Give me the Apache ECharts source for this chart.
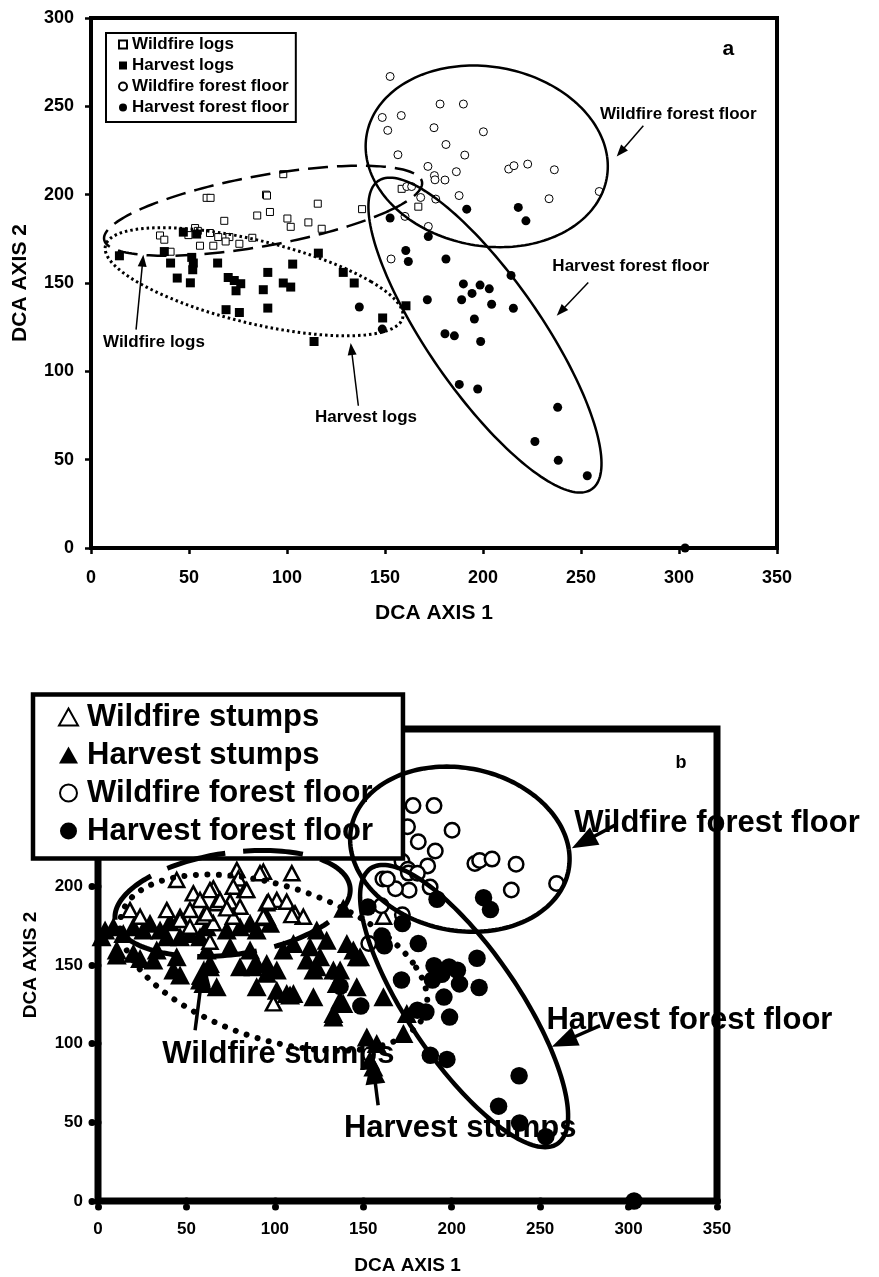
<!DOCTYPE html>
<html>
<head>
<meta charset="utf-8">
<script src="https://cdn.jsdelivr.net/npm/echarts@6/dist/echarts.min.js"></script>
<style>html,body{margin:0;padding:0;background:#fff}#c{width:879px;height:1277px}</style>
</head>
<body>
<div id="c"></div>
<script>
// ---------- Panel a data (DCA axis 1, DCA axis 2) ----------
var wildfireLogs = [[98.1,211.6],[59.0,198.2],[61.0,198.2],[89.3,200.0],[89.8,199.5],[91.3,190.2],[84.8,188.2],[68.0,185.2],[115.7,194.9],[100.2,186.5],[101.9,181.8],[110.9,184.3],[117.7,180.7],[138.3,191.8],[158.5,203.3],[167.0,193.2],[35.2,176.9],[37.4,174.5],[40.6,167.7],[53.1,181.1],[54.5,179.5],[49.7,177.1],[60.7,178.3],[55.6,171.1],[62.4,171.1],[64.9,176.0],[70.6,176.0],[68.7,173.5],[75.7,172.2],[82.3,175.6]];
var harvestLogs = [[14.5,165.4],[37.4,167.8],[47.1,178.8],[53.9,177.7],[40.6,161.3],[51.4,164.5],[52.2,161.3],[51.9,157.5],[44.0,152.8],[50.7,150.1],[64.6,161.3],[70.0,153.1],[73.1,151.4],[76.4,149.6],[74.0,145.6],[90.2,156.0],[87.9,146.2],[98.1,150.0],[101.9,147.7],[102.9,160.7],[116.0,166.9],[128.7,156.0],[134.3,150.0],[68.9,134.9],[75.7,133.3],[90.2,135.8],[160.7,137.1],[148.8,130.2],[113.8,116.9]];
var wildfireFloor = [[152.6,266.9],[148.6,243.7],[158.3,244.8],[151.4,236.4],[178.1,251.3],[190.0,251.3],[175.0,237.9],[200.2,235.6],[181.1,228.4],[156.6,222.6],[190.7,222.4],[171.9,216.0],[186.4,213.0],[175.2,210.8],[175.5,208.4],[180.6,208.3],[213.1,214.5],[215.8,216.4],[222.8,217.3],[236.4,214.1],[259.3,201.8],[233.7,197.7],[187.8,199.5],[175.9,197.5],[168.2,198.4],[161.1,204.6],[163.6,204.6],[160.2,187.7],[172.1,182.0],[153.1,163.6]];
var harvestFloor = [[191.7,191.8],[218.0,192.8],[221.9,185.2],[152.6,186.8],[172.1,176.3],[160.6,168.4],[161.9,162.2],[181.1,163.6],[214.3,154.3],[190.0,149.5],[198.5,148.8],[203.2,146.7],[194.4,144.1],[171.6,140.5],[189.1,140.5],[204.4,138.0],[215.5,135.7],[136.9,136.4],[195.6,129.6],[180.6,121.3],[185.4,120.1],[198.8,116.9],[148.6,123.9],[187.9,92.6],[197.3,90.0],[238.1,79.6],[226.5,60.3],[238.4,49.6],[253.2,40.9],[303.1,0]];

// ---------- Panel b data ----------
var wildfireStumps = [[44.5,204],[78.5,210.4],[93.5,209.3],[109.6,208.3],[79.4,205],[53.9,195.5],[65.2,198.7],[76.5,199.7],[83.1,197.6],[57.7,191.3],[67.1,189.2],[74.7,190.2],[80.3,187.0],[95.4,189.2],[101.1,191.3],[111.4,182.8],[116.1,180.7],[18.1,184.9],[23.8,180.7],[38.9,184.9],[46.4,178.6],[59.6,180.7],[65.2,176.5],[76.5,180.7],[161.4,180.7],[63.3,164.8],[96.3,190.2],[106.7,190.2],[109.6,181.7],[99.2,125.6],[63.3,197.6],[69.0,191.3],[52.0,185.0],[61.5,182.8],[72.8,186.0],[93.5,180.7],[52.0,174.3],[84.1,197.6],[91.6,208.3]];
var harvestStumps = [[2,168],[4,172.3],[8.7,174.3],[14.3,170.1],[20,174.3],[25.6,172.2],[29.4,176.5],[35.1,172.2],[40.7,177.5],[46.4,180.7],[38.9,168],[46.4,168],[52,170.1],[57.7,168],[61.5,174.3],[72.8,172.2],[80.3,174.3],[86,176.5],[89.7,172.2],[95.4,180.7],[10.6,159.5],[20,157.4],[33.2,159.5],[44.5,155.2],[61.5,159.5],[74.7,161.6],[86,159.5],[42.6,146.8],[63.3,151],[80.3,148.9],[95.4,151],[97.3,176.5],[123.7,172.2],[129.3,165.8],[119.9,161.6],[110.5,163.7],[104.8,159.5],[140.7,163.7],[144.4,159.5],[138.7,186],[118,153.1],[123.7,148.9],[133.1,146.8],[146.3,155.2],[89.7,151],[10.6,156.3],[23.8,154.2],[31.3,153.1],[46.4,143.6],[57.7,140.4],[63.3,148.9],[67.1,136.1],[59.6,138.3],[87.8,148.9],[89.7,136.1],[95.4,144.7],[101.1,146.8],[101.1,134.0],[106.7,131.9],[110.5,131.9],[121.8,146.8],[121.8,129.8],[125.6,155.2],[136.9,146.8],[136.9,127.7],[133.1,117.0],[146.3,136.1],[148.2,155.2],[161.4,129.8],[152,104.3],[157.6,100.1],[153.8,89.5],[155.7,85.2],[172.7,106.5],[174.6,119.2],[135,138.3],[138.7,125.6],[108.6,130.9],[133.1,119.2]];

// ---------- Axis ticks ----------
var xTicks = [0, 50, 100, 150, 200, 250, 300, 350];
var yTicks = [0, 50, 100, 150, 200, 250, 300];

// ---------- Group ellipses: [centerX, centerY, u.x, u.y, v.x, v.y] (conjugate semi-diameters, data units) ----------
var ellipsesSolidA  = [[201.9,221.7,61.4,0,-6.8,51.4],[201.0,120.5,34.4,0,-48.5,89.1]];
var ellipseDashedA  = [[87.8,190.9,64.3,0,49.5,25.5]];
var ellipseDottedA  = [[83.2,150.7,59.8,0,-46.9,30.6]];
var ellipsesSolidB  = [[204.6,223.6,61.6,0,-7.4,52.5],[207.0,123.9,36.9,0,-45.8,89.7]];
var ellipseDashedB  = [[76.1,189.1,64.3,0,17.0,33.7]];
var ellipseDottedB  = [[99.3,151.5,78.7,0,-36.8,56.0]];

// ---------- Annotation arrows: [fromX, fromY, toX, toY] ----------
var arrowsA = [[281.8,239.0,268.2,221.6],[253.7,150.3,237.6,131.5],[23.0,123.6,26.7,166.0],[136.4,80.5,132.5,116.0]];
var arrowsB = [[292.4,238.9,267.9,224.2],[283.9,111.5,256.6,98.0],[54.9,108.5,60.0,153.1],[158.4,60.8,155.0,90.7]];

// ---------- Annotation labels ----------
var labelTextA = ['Wildfire forest floor','Harvest forest floor','Wildfire logs','Harvest logs'];
var labelPosA  = [[299.6,245.6],[275.4,159.4],[32.1,116.6],[140.3,74.1]];
var labelTextB = ['Wildfire forest floor','Harvest forest floor','Wildfire stumps','Harvest stumps'];
var labelPosB  = [[350.0,240.0],[334.4,114.9],[102.0,93.1],[204.8,46.1]];
var panelTagA = ['a']; var panelTagPosA = [[325.2,282.4]];
var panelTagB = ['b']; var panelTagPosB = [[329.6,278.2]];

var FONT = '"Liberation Sans", Arial, sans-serif';

function ellipseSeries(data, axis, style) {
  return {
    type: 'custom', xAxisIndex: axis, yAxisIndex: axis, z: 5, silent: true,
    data: data, encode: {x: 0, y: 1},
    renderItem: function (params, api) {
      var cx = api.value(0), cy = api.value(1), ux = api.value(2), uy = api.value(3), vx = api.value(4), vy = api.value(5);
      var pts = [];
      for (var k = 0; k <= 180; k++) {
        var t = 2 * Math.PI * k / 180;
        pts.push(api.coord([cx + ux * Math.cos(t) + vx * Math.sin(t), cy + uy * Math.cos(t) + vy * Math.sin(t)]));
      }
      return {type: 'polyline', shape: {points: pts}, style: Object.assign({fill: null, stroke: '#000'}, style)};
    }
  };
}

function arrowSeries(data, axis, lw, headLen, headHalf) {
  return {
    type: 'custom', xAxisIndex: axis, yAxisIndex: axis, z: 5, silent: true,
    data: data, encode: {x: [0, 2], y: [1, 3]},
    renderItem: function (params, api) {
      var p1 = api.coord([api.value(0), api.value(1)]);
      var p2 = api.coord([api.value(2), api.value(3)]);
      var dx = p2[0] - p1[0], dy = p2[1] - p1[1], L = Math.sqrt(dx * dx + dy * dy);
      var ux = dx / L, uy = dy / L;
      var b = [p2[0] - ux * headLen, p2[1] - uy * headLen];
      return {type: 'group', children: [
        {type: 'line', shape: {x1: p1[0], y1: p1[1], x2: b[0] + ux, y2: b[1] + uy}, style: {stroke: '#000', lineWidth: lw}},
        {type: 'polygon', shape: {points: [p2, [b[0] - uy * headHalf, b[1] + ux * headHalf], [b[0] + uy * headHalf, b[1] - ux * headHalf]]}, style: {fill: '#000'}}
      ]};
    }
  };
}

function labelSeries(texts, pos, axis, size, z) {
  return {
    type: 'custom', xAxisIndex: axis, yAxisIndex: axis, z: z, silent: true,
    data: pos, encode: {x: 0, y: 1},
    renderItem: function (params, api) {
      var p = api.coord([api.value(0), api.value(1)]);
      return {type: 'text', x: p[0], y: p[1], style: {
        text: texts[params.dataIndex], fill: '#000', font: 'bold ' + size + 'px ' + FONT,
        align: 'center', verticalAlign: 'middle', textAlign: 'center', textVerticalAlign: 'middle'}};
    }
  };
}

function xAxisCfg(grid, labelSize, nameSize, nameGap, margin, tickStyle) {
  return {
    type: 'value', gridIndex: grid, min: xTicks[0], max: xTicks[xTicks.length - 1], interval: xTicks[1] - xTicks[0],
    splitLine: {show: false}, axisLine: {show: false},
    axisTick: tickStyle,
    axisLabel: {fontSize: labelSize, fontWeight: 'bold', fontFamily: FONT, color: '#000', margin: margin},
    name: 'DCA AXIS 1', nameLocation: 'middle', nameGap: nameGap,
    nameTextStyle: {fontSize: nameSize, fontWeight: 'bold', fontFamily: FONT, color: '#000'}
  };
}
function yAxisCfg(grid, labelSize, nameSize, nameGap, margin, tickStyle) {
  return {
    type: 'value', gridIndex: grid, min: yTicks[0], max: yTicks[yTicks.length - 1], interval: yTicks[1] - yTicks[0],
    splitLine: {show: false}, axisLine: {show: false},
    axisTick: tickStyle,
    axisLabel: {fontSize: labelSize, fontWeight: 'bold', fontFamily: FONT, color: '#000', margin: margin},
    name: 'DCA AXIS 2', nameLocation: 'middle', nameGap: nameGap,
    nameTextStyle: {fontSize: nameSize, fontWeight: 'bold', fontFamily: FONT, color: '#000'}
  };
}

var tickA = {show: true, inside: false, length: 6, lineStyle: {color: '#000', width: 2.5}};
var tickB = {show: true, inside: false, length: 6, lineStyle: {color: '#000', width: 7, cap: 'round', type: [0.01, 5.99]}};

var openA = {color: '#fff', borderColor: '#000', borderWidth: 1, opacity: 1};
var fillA = {color: '#000', opacity: 1};
var openB = {color: '#fff', borderColor: '#000', borderWidth: 2.5, opacity: 1};
var fillB = {color: '#000', opacity: 1};

var option = {
  animation: false,
  backgroundColor: '#fff',
  grid: [
    {left: 91, top: 18, width: 686, height: 530, show: true, borderColor: '#000', borderWidth: 4, backgroundColor: 'transparent', z: 2},
    {left: 98, top: 729, width: 619, height: 472, show: true, borderColor: '#000', borderWidth: 7, backgroundColor: 'transparent', z: 2}
  ],
  xAxis: [xAxisCfg(0, 18, 21, 55, 21, tickA), xAxisCfg(1, 17, 19, 55, 20, tickB)],
  yAxis: [yAxisCfg(0, 18, 21, 60, 17, tickA), yAxisCfg(1, 17, 19, 58, 15, tickB)],
  legend: [
    {orient: 'vertical', left: 106, top: 33, itemWidth: 8, itemHeight: 8, itemGap: 4,
     padding: [3, 7, 6, 12], borderColor: '#000', borderWidth: 2, backgroundColor: '#fff', z: 4,
     selectedMode: false, formatter: function (n) { return n.trim(); },
     textStyle: {fontSize: 17, fontWeight: 'bold', fontFamily: FONT, color: '#000'},
     data: ['Wildfire logs', 'Harvest logs', 'Wildfire forest floor', 'Harvest forest floor']},
    {orient: 'vertical', left: 33, top: 694.5, itemWidth: 19, itemHeight: 17, itemGap: 7,
     padding: [7, 30, 12, 25], borderColor: '#000', borderWidth: 4.5, backgroundColor: '#fff', z: 4,
     selectedMode: false, formatter: function (n) { return n.trim(); },
     textStyle: {fontSize: 31, fontWeight: 'bold', fontFamily: FONT, color: '#000', padding: [0, 0, 0, 4]},
     data: ['Wildfire stumps', 'Harvest stumps', 'Wildfire forest floor ', 'Harvest forest floor ']}
  ],
  series: [
    // panel a markers
    {type: 'scatter', name: 'Wildfire logs', xAxisIndex: 0, yAxisIndex: 0, z: 3, symbol: 'rect', symbolSize: 7, itemStyle: openA, data: wildfireLogs},
    {type: 'scatter', name: 'Harvest logs', xAxisIndex: 0, yAxisIndex: 0, z: 3, symbol: 'rect', symbolSize: 9, itemStyle: fillA, data: harvestLogs},
    {type: 'scatter', name: 'Wildfire forest floor', xAxisIndex: 0, yAxisIndex: 0, z: 3, symbol: 'circle', symbolSize: 8, itemStyle: openA, data: wildfireFloor},
    {type: 'scatter', name: 'Harvest forest floor', xAxisIndex: 0, yAxisIndex: 0, z: 3, symbol: 'circle', symbolSize: 9, itemStyle: fillA, data: harvestFloor},
    // panel b markers
    {type: 'scatter', name: 'Harvest stumps', xAxisIndex: 1, yAxisIndex: 1, z: 3, symbol: 'triangle', symbolSize: [20, 19], itemStyle: fillB, data: harvestStumps},
    {type: 'scatter', name: 'Wildfire stumps', xAxisIndex: 1, yAxisIndex: 1, z: 3, symbol: 'triangle', symbolSize: [15, 14], itemStyle: openB, data: wildfireStumps},
    {type: 'scatter', name: 'Wildfire forest floor ', xAxisIndex: 1, yAxisIndex: 1, z: 3, symbol: 'circle', symbolSize: 14.5, itemStyle: openB, data: wildfireFloor},
    {type: 'scatter', name: 'Harvest forest floor ', xAxisIndex: 1, yAxisIndex: 1, z: 3, symbol: 'circle', symbolSize: 17.5, itemStyle: fillB, data: harvestFloor},
    // ellipses
    ellipseSeries(ellipsesSolidA, 0, {lineWidth: 2.5}),
    ellipseSeries(ellipseDashedA, 0, {lineWidth: 2.5, lineDash: [20, 9]}),
    ellipseSeries(ellipseDottedA, 0, {lineWidth: 3, lineDash: [2.5, 3]}),
    ellipseSeries(ellipsesSolidB, 1, {lineWidth: 4.5}),
    ellipseSeries(ellipseDashedB, 1, {lineWidth: 5, lineDash: [60, 18]}),
    ellipseSeries(ellipseDottedB, 1, {lineWidth: 6, lineDash: [0.01, 11.5], lineCap: 'round'}),
    // arrows
    arrowSeries(arrowsA, 0, 1.5, 12, 4.5),
    arrowSeries(arrowsB, 1, 3.5, 26, 10),
    // labels
    labelSeries(labelTextA, labelPosA, 0, 17, 1),
    labelSeries(labelTextB, labelPosB, 1, 31, 1),
    labelSeries(panelTagA, panelTagPosA, 0, 21, 1),
    labelSeries(panelTagB, panelTagPosB, 1, 18, 1)
  ]
};

var chart = echarts.init(document.getElementById('c'), null, {renderer: 'canvas', width: 879, height: 1277});
chart.setOption(option);
</script>
</body>
</html>
